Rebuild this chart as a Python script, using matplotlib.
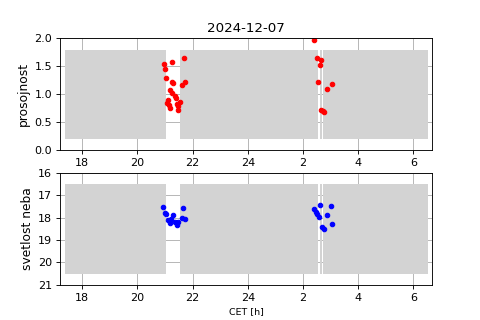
import matplotlib
matplotlib.use("Agg")
import matplotlib.pyplot as plt
import numpy as np

# observation times in hours CET (after midnight counted as 24+)
t_pros = [20.97, 21.26, 21.70, 21.00, 21.03, 21.26, 21.30, 21.73, 21.62, 21.20, 21.25,
          21.36, 21.12, 21.41, 21.08, 21.53, 21.42, 21.14, 21.46, 21.17, 21.48,
          26.41, 26.51, 26.64, 26.60, 26.55, 27.06, 26.88, 26.66, 26.71, 26.77]
prosojnost = [1.54, 1.57, 1.65, 1.45, 1.30, 1.23, 1.20, 1.22, 1.17, 1.08, 1.03,
              0.98, 0.90, 0.94, 0.85, 0.86, 0.83, 0.81, 0.79, 0.75, 0.72,
              1.97, 1.645, 1.61, 1.52, 1.23, 1.18, 1.09, 0.73, 0.71, 0.68]

t_svet = [20.93, 21.66, 20.99, 21.03, 21.28, 21.71, 21.60, 21.12, 21.18, 21.36, 21.48,
          21.42, 21.21,
          26.62, 27.02, 26.41, 26.47, 26.51, 26.58, 26.88, 27.06, 26.68, 26.75]
svetlost = [17.53, 17.58, 17.78, 17.85, 17.88, 18.08, 18.00, 18.11, 18.23, 18.18, 18.21,
            18.33, 18.08,
            17.44, 17.50, 17.62, 17.74, 17.85, 17.96, 17.88, 18.30, 18.43, 18.52]

# grey periods
span_start = [17.38, 21.54, 26.60, 26.72]
span_end = [21.03, 26.54, 26.685, 30.52]
span_pros = (0.2, 1.8)
span_svet = (16.5, 20.5)

xticks = [18, 20, 22, 24, 26, 28, 30]
xticklabels = ['18', '20', '22', '24', '2', '4', '6']

fig, (ax1, ax2) = plt.subplots(2, 1, figsize=(6, 4), dpi=80)

widths = np.array(span_end) - np.array(span_start)

ax1.bar(span_start, span_pros[1] - span_pros[0], width=widths, bottom=span_pros[0],
        align='edge', color='lightgray')
ax1.plot(t_pros, prosojnost, 'o', color='red', ms=4)
ax1.set_ylim(0, 2)
ax1.set_ylabel('prosojnost', fontsize=11)
ax1.set_title('2024-12-07')

ax2.bar(span_start, span_svet[1] - span_svet[0], width=widths, bottom=span_svet[0],
        align='edge', color='lightgray')
ax2.plot(t_svet, svetlost, 'o', color='blue', ms=4)
ax2.set_ylim(21, 16)
ax2.set_ylabel('svetlost neba', fontsize=11)
ax2.set_xlabel('CET [h]', fontsize=8.5)

for ax in (ax1, ax2):
    ax.set_axisbelow(True)
    ax.grid(True)
    ax.set_xlim(17.2, 30.67)
    ax.set_xticks(xticks)
    ax.set_xticklabels(xticklabels)

fig.savefig('out.png')
